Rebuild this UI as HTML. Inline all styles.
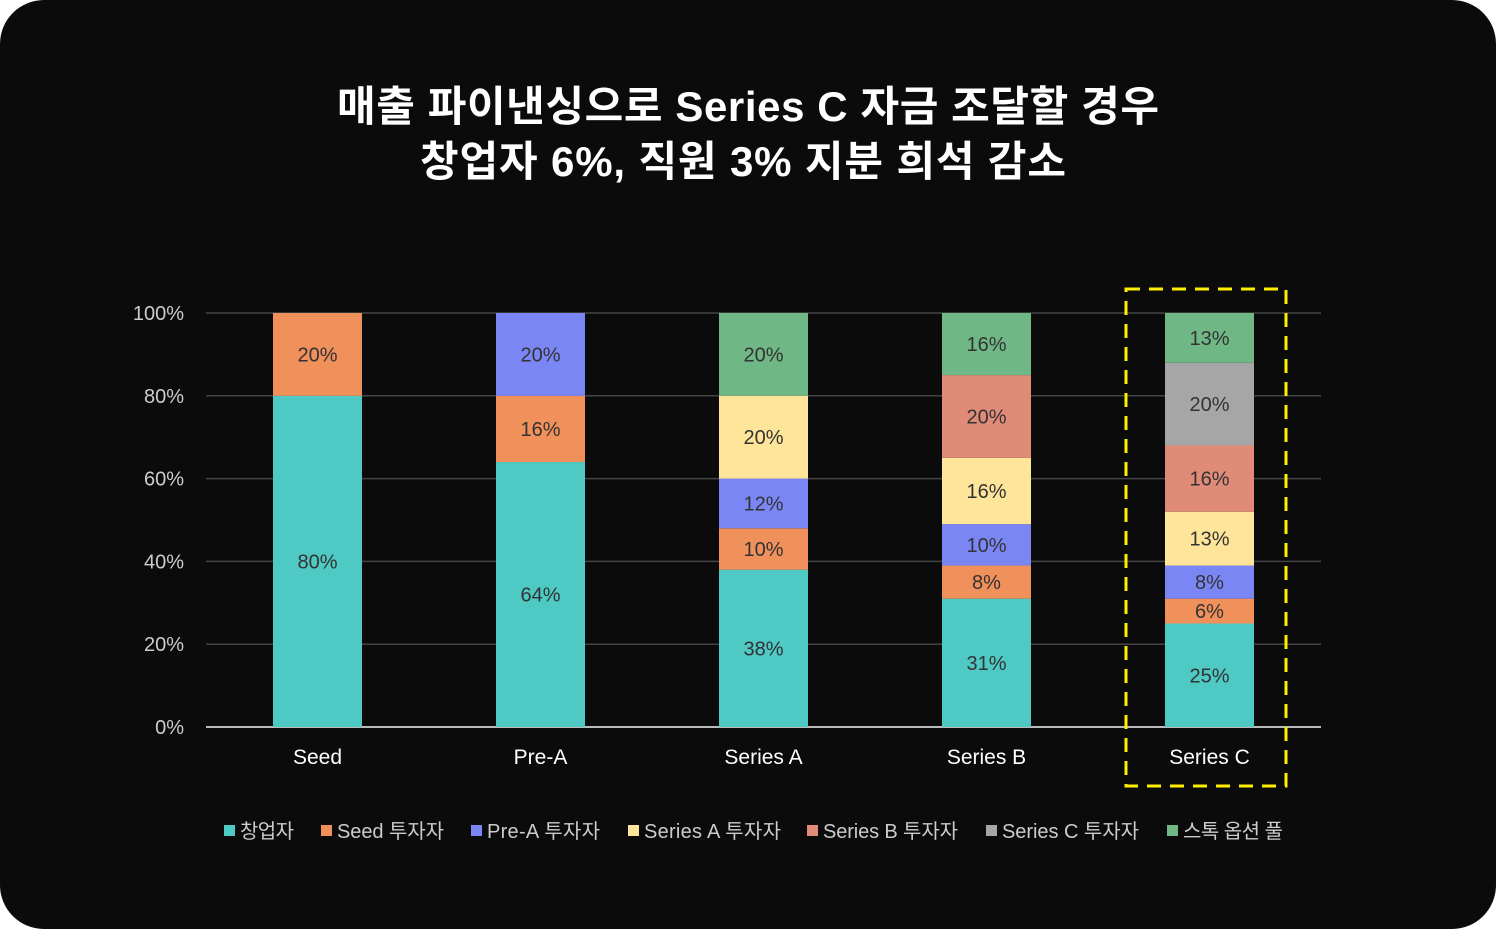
<!DOCTYPE html>
<html><head><meta charset="utf-8"><style>
html,body{margin:0;padding:0;background:#fff;}
#card{position:absolute;left:0;top:0;width:1496px;height:929px;background:#0b0b0b;border-radius:44px;overflow:hidden;}
.t{font-family:"Liberation Sans","Noto Sans CJK KR",sans-serif;}
</style></head><body>
<div id="card">
<svg id="svg" width="1496" height="929">
<text class="t" x="748" y="121" text-anchor="middle" fill="#fff" font-size="42" font-weight="bold" textLength="822">매출 파이낸싱으로 Series C 자금 조달할 경우</text>
<text class="t" x="743" y="176" text-anchor="middle" fill="#fff" font-size="42" font-weight="bold" textLength="646">창업자 6%, 직원 3% 지분 희석 감소</text>
</svg>
</div>
<script>
const categories=["Seed","Pre-A","Series A","Series B","Series C"];
const seriesNames=["창업자","Seed 투자자","Pre-A 투자자","Series A 투자자","Series B 투자자","Series C 투자자","스톡 옵션 풀"];
const seedVals=[80,20];
const preAVals=[64,16,20];
const seriesAVals=[38,10,12,20,20];
const seriesBVals=[31,8,10,16,20,16];
const seriesCVals=[25,6,8,13,16,20,13];
const seedSeries=[0,1];
const preASeries=[0,1,2];
const seriesASeries=[0,1,2,3,6];
const seriesBSeries=[0,1,2,3,4,6];
const seriesCSeries=[0,1,2,3,4,5,6];
const yTicks=[0,20,40,60,80,100];
const colors=["#4ec9c4","#f0905a","#7b86f5","#ffe599","#e08a78","#a6a6a6","#6fb784"];
const allVals=[seedVals,preAVals,seriesAVals,seriesBVals,seriesCVals];
const allSeries=[seedSeries,preASeries,seriesASeries,seriesBSeries,seriesCSeries];
const NS="http://www.w3.org/2000/svg",svg=document.getElementById('svg');
const x0=206,x1=1321,yB=727,yT=313,bw=89;
const y=v=>yB-(v/100)*(yB-yT);
const xc=i=>x0+(x1-x0)/categories.length*(i+0.5);
function mk(t,a,p){const e=document.createElementNS(NS,t);for(const k in a)e.setAttribute(k,a[k]);(p||svg).appendChild(e);return e;}
yTicks.forEach(v=>{
 const l=mk('line',{x1:x0,x2:x1,y1:y(v),y2:y(v),stroke:v===0?'#bbb':'#444','stroke-width':v===0?2:1.5});
 
 
 const t=mk('text',{x:184,y:y(v)+7,'text-anchor':'end',fill:'#ccc','font-size':20,class:'t'});
 t.textContent=v+'%';
 
 
});
allVals.forEach((vals,i)=>{
 let acc=0;
 vals.forEach((v,j)=>{
  const top=Math.min(100,acc+v);
  const r=mk('rect',{x:xc(i)-bw/2,y:y(top),width:bw,height:y(acc)-y(top),fill:colors[allSeries[i][j]]});
  
  
  const t=mk('text',{x:xc(i),y:(y(acc)+y(top))/2+7,'text-anchor':'middle',fill:'#333','font-size':20,class:'t'});
  t.textContent=v+'%';
  
  
  acc=top;
 });
 const c=mk('text',{x:xc(i),y:764,'text-anchor':'middle',fill:'#fff','font-size':21,class:'t'});
 c.textContent=categories[i];
 
 
});
const hb=mk('rect',{x:1126,y:289,width:160,height:497,fill:'none',stroke:'#ffee00','stroke-width':3,'stroke-dasharray':'14 9'});


const lx=[224,321,471,628,807,986,1167];
const lw=[54,107,113,137,135,137,100];
seriesNames.forEach((n,j)=>{
 const g=mk('g',{});
 
 
 mk('rect',{x:lx[j],y:825,width:11,height:11,fill:colors[j]},g);
 const t=mk('text',{x:lx[j]+16,y:838,fill:'#ccc','font-size':20,class:'t',textLength:lw[j]},g);
 t.textContent=n;
});
</script>
</body></html>
